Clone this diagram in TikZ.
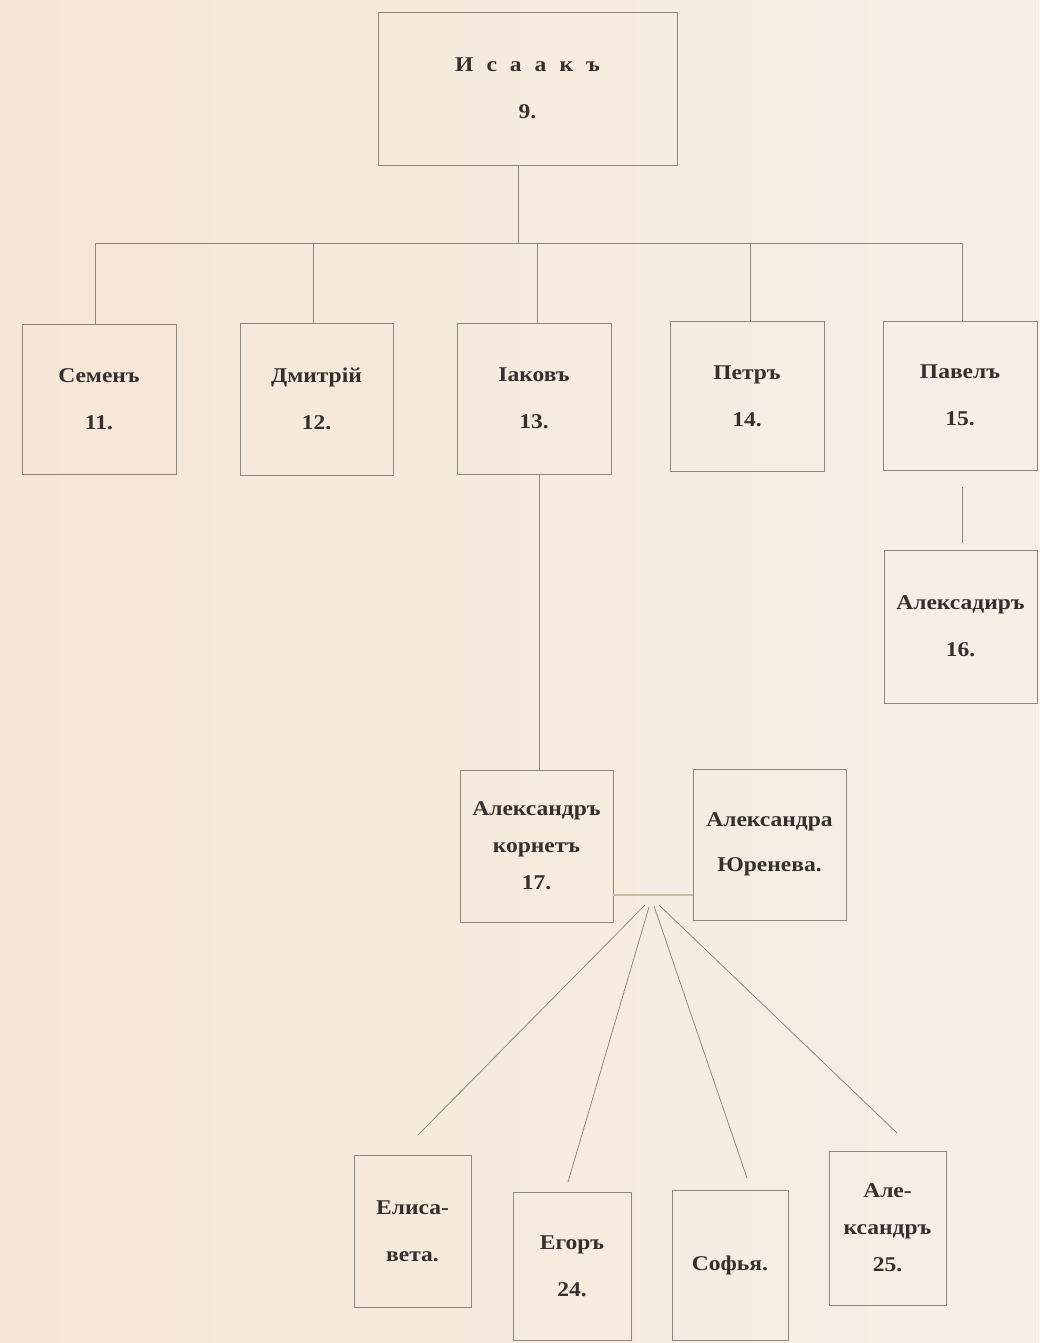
\documentclass[tikz,border=0pt]{standalone}
\usepackage{fontspec}
\setmainfont[FakeStretch=1.12]{Liberation Serif}
\definecolor{paperL}{HTML}{F6E6D6}
\definecolor{paperR}{HTML}{F7EFE7}
\definecolor{rule}{HTML}{8E8883}
\definecolor{ink}{HTML}{35302D}
\definecolor{tan}{HTML}{CDBBA2}
\begin{document}
\begin{tikzpicture}[x=1pt,y=-1pt,
  box/.style={draw=rule,line width=0.9pt,inner sep=0pt,align=center,text=ink,
    font=\bfseries\fontsize{21}{47}\selectfont},
  three/.style={font=\bfseries\fontsize{21}{37}\selectfont},
  link/.style={draw=rule,line width=0.9pt}]
\shade[left color=paperL,right color=paperR] (0,0) rectangle (1039,1343);
\useasboundingbox (0,0) rectangle (1039,1343);
% boxes
\node[box,minimum width=299pt,minimum height=153pt] (isaak) at (527.5,88.5) {И\hspace{0.62em}с\hspace{0.62em}а\hspace{0.62em}а\hspace{0.62em}к\hspace{0.62em}ъ\\9.};
\node[box,minimum width=154pt,minimum height=150pt] (semen) at (99,399) {Семенъ\\11.};
\node[box,minimum width=153pt,minimum height=152pt] (dmitri) at (316.5,399) {Дмитрій\\12.};
\node[box,minimum width=154pt,minimum height=151pt] (iakov) at (534,398.5) {Іаковъ\\13.};
\node[box,minimum width=154pt,minimum height=150pt] (petr) at (747,396) {Петръ\\14.};
\node[box,minimum width=154pt,minimum height=149pt] (pavel) at (960,395.5) {Павелъ\\15.};
\node[box,minimum width=153pt,minimum height=153pt] (alexA) at (960.5,626.5) {Алексадиръ\\16.};
\node[box,three,minimum width=153pt,minimum height=152pt] (alexB) at (536.5,846) {Александръ\\корнетъ\\17.};
\node[box,minimum width=153pt,minimum height=151pt,font=\bfseries\fontsize{21}{45}\selectfont] (yur) at (769.5,844.5) {Александра\\Юренева.};
\node[box,minimum width=117pt,minimum height=152pt] (elis) at (412.5,1231) {Елиса-\\вета.};
\node[box,minimum width=118pt,minimum height=148pt] (egor) at (572,1266) {Егоръ\\24.};
\node[box,minimum width=116pt,minimum height=150pt] (sofya) at (730,1265) {Софья.};
\node[box,three,minimum width=117pt,minimum height=154pt] (alexC) at (887.5,1228) {Але-\\ксандръ\\25.};
% coordinates
\coordinate (bus) at (518,243);
\coordinate (busL) at (95,243);
\coordinate (busR) at (962,243);
\coordinate (dD) at (313,243);
\coordinate (dI) at (537,243);
\coordinate (dP) at (750,243);
\coordinate (jv) at (539,0);
\coordinate (pvT) at (962,487);
\coordinate (pvB) at (962,543);
\coordinate (mar) at (0,895);
\coordinate (f1) at (645,905);
\coordinate (f2) at (649,907);
\coordinate (f3) at (654,906);
\coordinate (f4) at (659,905);
\coordinate (e1) at (418,1135);
\coordinate (e2) at (568,1182);
\coordinate (e3) at (747,1178);
\coordinate (e4) at (897,1133);
% connectors
\draw[link] (isaak.south -| bus) -- (bus);
\draw[link] (busL) -- (busR);
\draw[link] (busL) -- (semen.north -| busL);
\draw[link] (dD) -- (dmitri.north -| dD);
\draw[link] (dI) -- (iakov.north -| dI);
\draw[link] (dP) -- (petr.north -| dP);
\draw[link] (busR) -- (pavel.north -| busR);
\draw[link] (iakov.south -| jv) -- (alexB.north -| jv);
\draw[link] (pvT) -- (pvB);
\draw[draw=tan,line width=2.5pt] (alexB.east |- mar) -- (yur.west |- mar);
\draw[link,line width=0.8pt] (f1) -- (e1);
\draw[link,line width=0.8pt] (f2) -- (e2);
\draw[link,line width=0.8pt] (f3) -- (e3);
\draw[link,line width=0.8pt] (f4) -- (e4);
\end{tikzpicture}
\end{document}
